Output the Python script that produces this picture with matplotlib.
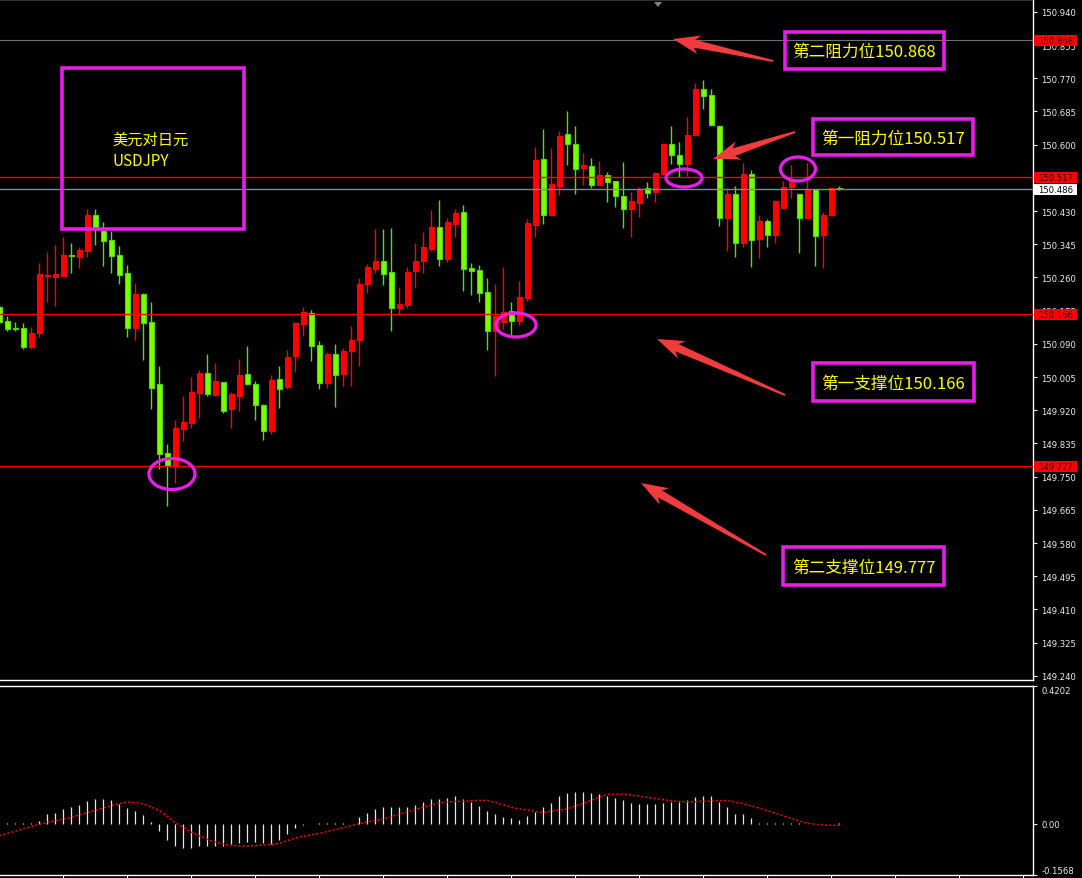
import numpy as np
import matplotlib.pyplot as plt
from matplotlib.patches import Rectangle, Ellipse, Polygon
from matplotlib.transforms import blended_transform_factory

plt.rcParams['font.family'] = ['Noto Sans CJK SC', 'DejaVu Sans']

# USDJPY candles, red = up, green = down
opens = [
    150.185, 150.149, 150.131, 150.131, 150.082, 150.118, 150.264, 150.261, 150.264, 150.317,
    150.312, 150.328, 150.420, 150.379, 150.356, 150.317, 150.272, 150.131, 150.218, 150.146,
    149.987, 149.811, 149.777, 149.872, 149.887, 149.964, 150.015, 149.959, 149.992, 149.923,
    149.956, 150.013, 149.987, 149.933, 149.867, 150.000, 149.979, 150.059, 150.141, 150.169,
    150.087, 149.990, 150.064, 150.013, 150.072, 150.100, 150.243, 150.282, 150.302, 150.274,
    150.182, 150.190, 150.277, 150.302, 150.333, 150.389, 150.307, 150.397, 150.428, 150.284,
    150.279, 150.223, 150.123, 150.146, 150.174, 150.149, 150.208, 150.394, 150.564, 150.420,
    150.494, 150.627, 150.602, 150.540, 150.545, 150.497, 150.522, 150.507, 150.469, 150.435,
    150.451, 150.489, 150.479, 150.525, 150.602, 150.574, 150.551, 150.625, 150.743, 150.727,
    150.648, 150.412, 150.474, 150.348, 150.525, 150.359, 150.405, 150.369, 150.438, 150.492,
    150.474, 150.412, 150.487, 150.369, 150.420, 150.489]
highs = [
    150.192, 150.161, 150.146, 150.144, 150.133, 150.297, 150.325, 150.343, 150.364, 150.348,
    150.338, 150.435, 150.435, 150.402, 150.379, 150.341, 150.292, 150.246, 150.220, 150.197,
    150.033, 149.834, 149.895, 149.956, 150.005, 150.023, 150.064, 150.041, 149.992, 149.967,
    150.051, 150.085, 149.995, 149.936, 150.010, 150.033, 150.074, 150.146, 150.185, 150.177,
    150.097, 150.069, 150.090, 150.079, 150.136, 150.259, 150.294, 150.384, 150.384, 150.387,
    150.236, 150.287, 150.348, 150.377, 150.433, 150.458, 150.412, 150.435, 150.446, 150.297,
    150.292, 150.259, 150.243, 150.287, 150.197, 150.251, 150.410, 150.594, 150.640, 150.592,
    150.635, 150.686, 150.648, 150.579, 150.566, 150.558, 150.530, 150.507, 150.556, 150.479,
    150.492, 150.504, 150.530, 150.604, 150.648, 150.607, 150.671, 150.758, 150.766, 150.743,
    150.650, 150.489, 150.494, 150.553, 150.535, 150.420, 150.410, 150.458, 150.507, 150.547,
    150.474, 150.553, 150.487, 150.428, 150.489, 150.494]
lows = [
    150.141, 150.123, 150.123, 150.077, 150.077, 150.108, 150.197, 150.187, 150.261, 150.272,
    150.284, 150.312, 150.343, 150.289, 150.272, 150.243, 150.108, 150.100, 150.049, 149.923,
    149.770, 149.675, 149.734, 149.841, 149.875, 149.900, 149.956, 149.956, 149.913, 149.875,
    149.918, 149.985, 149.895, 149.844, 149.859, 149.926, 149.974, 150.018, 150.110, 150.046,
    149.974, 149.977, 149.929, 149.982, 149.982, 150.033, 150.220, 150.272, 150.241, 150.123,
    150.167, 150.182, 150.233, 150.272, 150.328, 150.289, 150.300, 150.364, 150.225, 150.215,
    150.197, 150.074, 150.008, 150.128, 150.113, 150.138, 150.200, 150.364, 150.397, 150.418,
    150.471, 150.548, 150.474, 150.497, 150.489, 150.497, 150.453, 150.441, 150.387, 150.364,
    150.415, 150.464, 150.453, 150.522, 150.551, 150.517, 150.520, 150.622, 150.691, 150.648,
    150.392, 150.328, 150.312, 150.338, 150.287, 150.310, 150.338, 150.348, 150.438, 150.464,
    150.323, 150.412, 150.289, 150.284, 150.418, 150.484]
closes = [
    150.146, 150.128, 150.128, 150.082, 150.118, 150.269, 150.266, 150.269, 150.317, 150.315,
    150.330, 150.420, 150.387, 150.353, 150.315, 150.266, 150.131, 150.218, 150.144, 149.977,
    149.808, 149.777, 149.875, 149.890, 149.967, 150.015, 149.962, 149.995, 149.918, 149.962,
    150.010, 149.987, 149.933, 149.867, 149.997, 149.974, 150.056, 150.144, 150.172, 150.085,
    149.990, 150.064, 150.010, 150.072, 150.100, 150.243, 150.287, 150.302, 150.269, 150.182,
    150.192, 150.274, 150.302, 150.338, 150.389, 150.307, 150.402, 150.425, 150.282, 150.277,
    150.220, 150.123, 150.161, 150.172, 150.149, 150.210, 150.400, 150.561, 150.420, 150.499,
    150.622, 150.602, 150.538, 150.548, 150.497, 150.522, 150.504, 150.469, 150.435, 150.456,
    150.487, 150.476, 150.527, 150.602, 150.574, 150.551, 150.625, 150.743, 150.725, 150.650,
    150.412, 150.474, 150.348, 150.525, 150.356, 150.405, 150.369, 150.456, 150.492, 150.510,
    150.412, 150.487, 150.366, 150.420, 150.489, 150.486]

# MACD histogram and signal line
macd_hist = [
    0.002, 0.003, 0.003, 0.003, 0.003, 0.008, 0.029, 0.034, 0.045, 0.050,
    0.057, 0.070, 0.076, 0.076, 0.073, 0.061, 0.049, 0.038, 0.026, 0.005,
    -0.023, -0.049, -0.067, -0.073, -0.073, -0.067, -0.067, -0.067, -0.067, -0.063,
    -0.060, -0.055, -0.055, -0.060, -0.063, -0.049, -0.033, -0.013, -0.003, -0.002,
    0.001, 0.001, 0.001, 0.001, -0.002, 0.019, 0.034, 0.045, 0.050, 0.050,
    0.050, 0.052, 0.057, 0.066, 0.074, 0.074, 0.078, 0.085, 0.074, 0.066,
    0.055, 0.039, 0.029, 0.021, 0.016, 0.011, 0.022, 0.037, 0.050, 0.064,
    0.085, 0.094, 0.097, 0.097, 0.094, 0.090, 0.085, 0.078, 0.071, 0.064,
    0.061, 0.059, 0.059, 0.064, 0.066, 0.066, 0.071, 0.080, 0.085, 0.085,
    0.066, 0.050, 0.029, 0.029, 0.016, 0.001, 0.001, 0.001, 0.003, 0.001,
    0.001, -0.002, -0.002, -0.002, -0.002, 0.001]
macd_signal = [
    -0.037, -0.030, -0.023, -0.016, -0.009, -0.002, 0.004, 0.009, 0.014, 0.019,
    0.027, 0.034, 0.041, 0.048, 0.055, 0.061, 0.066, 0.065, 0.060, 0.051,
    0.040, 0.022, 0.003, -0.012, -0.026, -0.037, -0.048, -0.056, -0.062, -0.066,
    -0.068, -0.068, -0.067, -0.065, -0.063, -0.060, -0.052, -0.044, -0.039, -0.034,
    -0.030, -0.024, -0.018, -0.012, -0.006, 0.000, 0.005, 0.010, 0.014, 0.021,
    0.029, 0.036, 0.043, 0.050, 0.057, 0.063, 0.066, 0.068, 0.068, 0.070,
    0.071, 0.071, 0.065, 0.057, 0.050, 0.045, 0.042, 0.037, 0.034, 0.038,
    0.042, 0.045, 0.054, 0.062, 0.071, 0.080, 0.089, 0.090, 0.090, 0.087,
    0.084, 0.080, 0.077, 0.073, 0.070, 0.068, 0.066, 0.067, 0.068, 0.069,
    0.070, 0.071, 0.066, 0.061, 0.054, 0.047, 0.040, 0.032, 0.024, 0.016,
    0.008, 0.001, -0.002, -0.004, -0.005, -0.005]

res2, res1, sup1, sup2 = 150.868, 150.517, 150.166, 149.777
bid = 150.486
price_ticks = [150.940 - 0.085 * i for i in range(21)]

W, H = 1082, 879
fig = plt.figure(figsize=(W / 100, H / 100), dpi=100, facecolor='black')
ax = fig.add_axes([0, 198 / H, 1033 / W, 681 / H])
ax2 = fig.add_axes([0, 3 / H, 1033 / W, 189 / H])

idx = np.arange(len(opens))
o = np.array(opens); c = np.array(closes)
up = c >= o

for a in (ax, ax2):
    a.set_facecolor('black')
    a.spines['left'].set_visible(False)
    for s in ('top', 'right', 'bottom'):
        a.spines[s].set_color('white')
        a.spines[s].set_linewidth(1)
    a.set_xlim(0.09, 129.2)
    a.yaxis.tick_right()

# candles
ax.vlines(idx, lows, highs, colors=np.where(up, '#FF0000', '#55E000'), lw=1, zorder=2)
ax.bar(idx, np.abs(c - o), bottom=np.minimum(o, c), width=0.62,
       color=np.where(up, '#FF0000', '#7CFC00'), edgecolor=np.where(up, '#FF0000', '#4CD800'),
       linewidth=0.8, zorder=3)

ax.axhline(res2, color='#6E6E6E', lw=0.8, zorder=4)
for lv in (res1, sup1, sup2):
    ax.axhline(lv, color='#FF0000', lw=1, zorder=4)
ax.axhline(bid, color='#7D8A99', lw=1, zorder=4)

# tick labels fully hidden behind the level boxes are left blank
hidden = {'150.515'}
tick_text = [f'{v:.3f}' for v in price_ticks]
tick_text = ['' if t in hidden else t for t in tick_text]
ax.set_ylim(149.2295, 150.973)
ax.set_yticks(price_ticks)
ax.set_yticklabels(tick_text, family='DejaVu Sans')
ax.tick_params(axis='y', colors='#EDEDED', labelsize=6.1, length=3, pad=3)
ax.tick_params(axis='x', bottom=False, labelbottom=False)

tr = blended_transform_factory(ax.transAxes, ax.transData)
for lv, fc, tc in [(res2, '#FF0000', '#300000'), (res1, '#FF0000', '#300000'),
                   (bid, 'white', 'black'), (sup1, '#FF0000', '#300000'),
                   (sup2, '#FF0000', '#300000')]:
    ax.add_patch(Rectangle((1 + 1 / 1033, lv - 0.0141), 43 / 1033, 0.0282, transform=tr,
                           fc=fc, ec='none', clip_on=False, zorder=6))
    ax.text(1 + 5 / 1033, lv, f'{lv:.3f}', transform=tr, fontsize=6.1, color=tc,
            va='center', ha='left', family='DejaVu Sans', clip_on=False, zorder=7)

# MACD panel
ax2.vlines(idx, 0, macd_hist, colors='#E6E6E6', lw=0.9)
ax2.plot(idx, macd_signal, color='#FF0000', lw=1, ls=(0, (1.5, 1.5)))
ax2.set_ylim(-0.1568, 0.4202)
ax2.set_yticks([-0.1568, 0.0, 0.4202])
ax2.set_yticklabels(['-0.1568', '0.00', '0.4202'], family='DejaVu Sans')
ax2.tick_params(axis='y', colors='#EDEDED', labelsize=6.1, length=3, pad=3)
lbls = ax2.get_yticklabels()
lbls[0].set_va('bottom')
lbls[2].set_va('top')
ax2.set_xticks(np.arange(8, 130, 8))
ax2.tick_params(axis='x', colors='white', length=3, labelbottom=False)

# annotation overlay in pixel space
ov = fig.add_axes([0, 0, 1, 1], facecolor='none')
ov.set_xlim(0, W); ov.set_ylim(H, 0); ov.axis('off')

mag = '#E61EE6'
yel = '#FFFF00'
ov.add_patch(Rectangle((62, 69), 182, 161, fill=False, ec=mag, lw=2.6))
ov.text(112, 151, '美元对日元\nUSDJPY', color=yel, fontsize=11, ha='left', va='center', linespacing=1.3)

boxes = [((785, 33, 159, 37), f'第二阻力位{res2:.3f}'),
         ((813, 120, 160, 36), f'第一阻力位{res1:.3f}'),
         ((813, 364, 161, 38), f'第一支撑位{sup1:.3f}'),
         ((783, 548, 161, 38), f'第二支撑位{sup2:.3f}')]
for (x0, y0, w, h), txt in boxes:
    ov.add_patch(Rectangle((x0, y0), w, h, fill=False, ec=mag, lw=2.6))
    ov.text(x0 + w / 2, y0 + h / 2 + 1, txt, color=yel, fontsize=12, ha='center', va='center')


def arrow(tail, tip, wt=2.0, wb=8.0, wh=19.0, hl=22.0):
    t = np.array(tail, float); p = np.array(tip, float)
    u = (p - t) / np.hypot(*(p - t))
    n = np.array([-u[1], u[0]])
    b = p - u * hl
    pts = [t + n * wt / 2, b + n * wb / 2, b - u * 5 + n * wh / 2, p,
           b - u * 5 - n * wh / 2, b - n * wb / 2, t - n * wt / 2]
    ov.add_patch(Polygon(pts, closed=True, fc='#F03C3C', ec='none'))


arrow((773, 62), (673, 40))
arrow((795, 133), (713, 160))
arrow((785, 396), (657, 340))
arrow((766, 556), (641, 484))

for cx, cy, w, h in [(172, 475, 46, 31), (516, 326, 40, 24), (684, 179, 36, 18), (798, 170, 35, 24)]:
    ov.add_patch(Ellipse((cx, cy), w, h, fill=False, ec=mag, lw=2.4))

ov.add_patch(Polygon([(654, 3), (662, 3), (658, 8)], closed=True, fc='#808080', ec='none'))

fig.savefig('out.png', dpi=100, facecolor='black')
